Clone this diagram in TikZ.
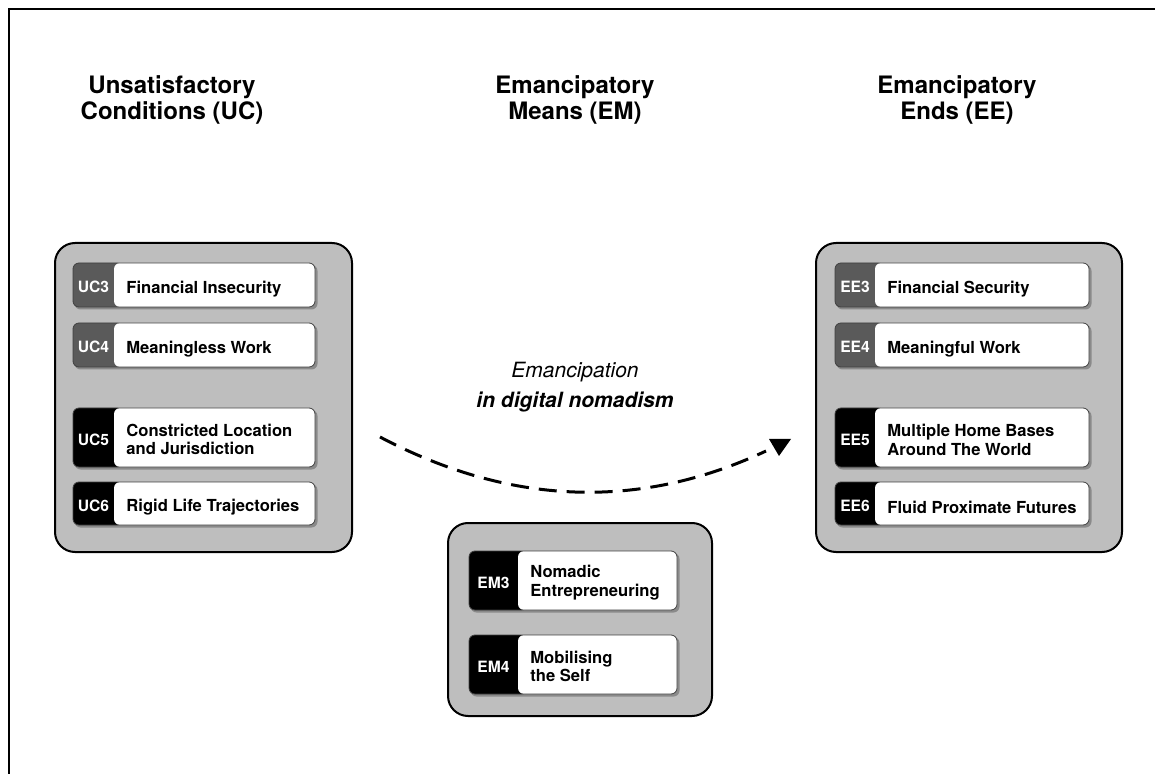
\documentclass[tikz,border=0pt]{standalone}
\usepackage{fontspec}
\setmainfont{TeX Gyre Heros}
\definecolor{boxgray}{HTML}{BEBEBE}
\definecolor{tabgray}{HTML}{5A5A5A}
\definecolor{shadowc}{HTML}{8A8A8A}
\def\tshift{-2pt}
\newcommand\itm[9]{%
  \fill[shadowc, rounded corners=3pt] (#2+1.5,#3+2) rectangle (#5+2.5,#6+2.5);
  \fill[#7, rounded corners=3pt] (#2,#3) rectangle (#4+10,#6);
  \fill[white, rounded corners=3pt] (#4,#3) rectangle (#5,#6);
  \draw[draw=black!75, line width=0.4pt, rounded corners=3pt] (#2,#3) rectangle (#5,#6);
  \node[codetext, yshift=-1pt] (#1c) at ({(#2+#4)/2},{(#3+#6)/2}) {#8};
  \node[itemtext, yshift=\tshift] (#1) at (#4+12,{(#3+#6)/2}) {#9};
}
\begin{document}
\begin{tikzpicture}[x=0.5pt,y=-0.5pt,
  group/.style={draw=black, line width=1pt, fill=boxgray, rounded corners=10pt, inner sep=0pt},
  head/.style={font=\fontsize{12}{13}\selectfont\bfseries, align=center},
  itemtext/.style={font=\fontsize{8.3}{9.4}\selectfont\bfseries, align=left, anchor=west, inner sep=0pt},
  codetext/.style={font=\fontsize{7.8}{9}\selectfont\bfseries, text=white, inner sep=0pt},
  arrowtext/.style={font=\fontsize{10.5}{12}\selectfont},
]
\useasboundingbox (0,0) rectangle (1155,774);
\fill[white] (0,0) rectangle (1155,774);
% frame
\draw[line width=1pt] (8.5,774) -- (8.5,9) -- (1155,9);

% headings
\node[head] (hUC) at (172,100) {Unsatisfactory\\Conditions (UC)};
\node[head] (hEM) at (575,100) {Emancipatory\\Means (EM)};
\node[head] (hEE) at (957,100) {Emancipatory\\Ends (EE)};

% groups
\node[group, minimum width=148.5pt, minimum height=154.5pt] (UC) at (203.5,397.5) {};
\node[group, minimum width=153pt, minimum height=154.5pt] (EE) at (969,397.5) {};
\node[group, minimum width=132pt, minimum height=96.5pt] (EM) at (580,619.5) {};

% items (single line)
\def\tshift{-2pt}
\itm{uc3}{73}{263}{114}{315}{307}{tabgray}{UC3}{Financial Insecurity}
\itm{uc4}{73}{323}{114}{315}{367}{tabgray}{UC4}{Meaningless Work}
\itm{uc6}{73}{482}{114}{315}{525}{black}{UC6}{Rigid Life Trajectories}
\itm{ee3}{835}{263}{875}{1089}{307}{tabgray}{EE3}{Financial Security}
\itm{ee4}{835}{323}{875}{1089}{367}{tabgray}{EE4}{Meaningful Work}
\itm{ee6}{835}{482}{875}{1089}{525}{black}{EE6}{Fluid Proximate Futures}

% items (two lines)
\def\tshift{-1pt}
\itm{uc5}{73}{408}{114}{315}{467}{black}{UC5}{Constricted Location\\and Jurisdiction}
\itm{ee5}{835}{408}{875}{1089}{467}{black}{EE5}{Multiple Home Bases\\Around The World}
\itm{em3}{469}{551}{518}{677}{610}{black}{EM3}{Nomadic\\Entrepreneuring}
\itm{em4}{469}{635}{518}{677}{694}{black}{EM4}{Mobilising\\the Self}

% arrow label
\node[arrowtext, font=\fontsize{10.5}{12}\selectfont\itshape] (t1) at (575,372) {Emancipation};
\node[arrowtext, font=\fontsize{10.5}{12}\selectfont\bfseries\itshape] (t2) at (575,402) {in digital nomadism};

% dashed arrow
\coordinate (a0) at (380,437);
\coordinate (a1) at (766,451);
\draw[line width=1.5pt, dash pattern=on 9pt off 5pt] (a0) .. controls (511,506) and (640,510) .. (a1);
\fill (769,439) -- (791,439) -- (779,456) -- cycle;
\end{tikzpicture}
\end{document}
